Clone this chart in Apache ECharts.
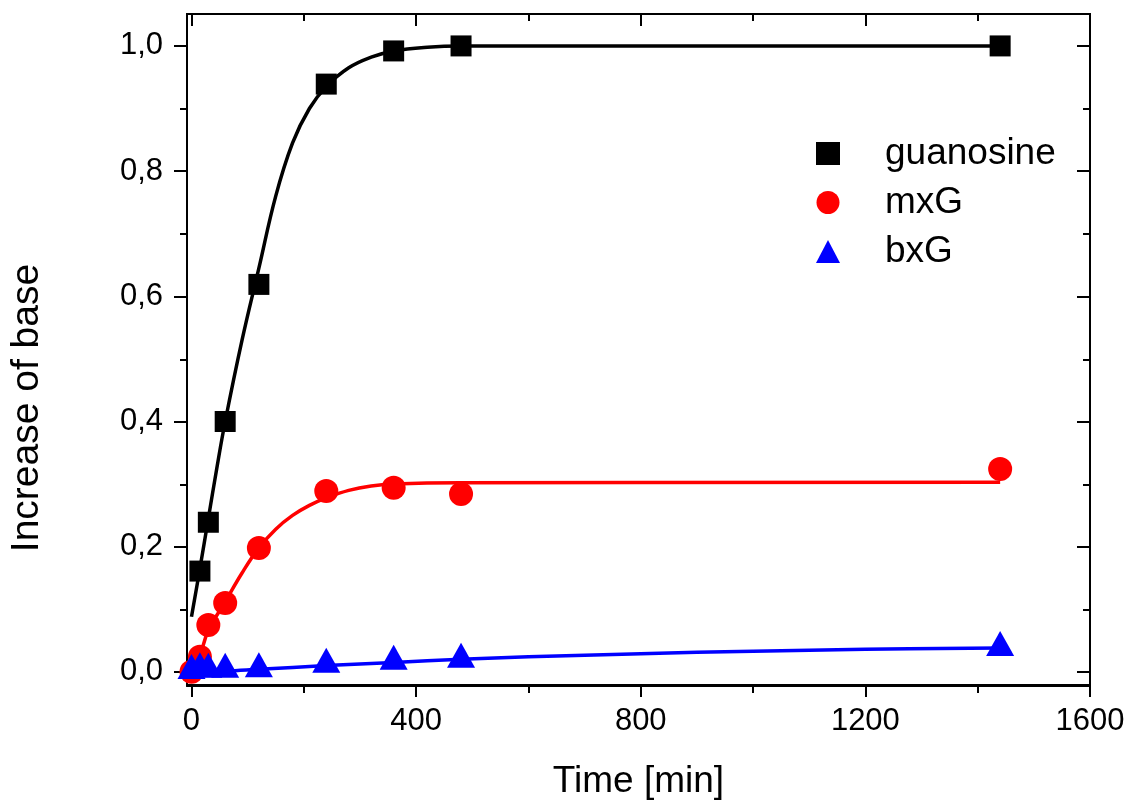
<!DOCTYPE html>
<html>
<head>
<meta charset="utf-8">
<script src="https://cdn.jsdelivr.net/npm/echarts@6/dist/echarts.min.js"></script>
<style>
html,body{margin:0;padding:0;background:#fff;}
#c{width:1130px;height:805px;}
</style>
</head>
<body>
<div id="c"></div>
<script>
// ---- data ----
const times = [0, 15, 30, 60, 120, 240, 360, 480, 1440];
const guanosineTimes = [15, 30, 60, 120, 240, 360, 480, 1440];
const guanosine = [0.161, 0.239, 0.400, 0.619, 0.939, 0.992, 1.0, 1.0];
const mxG = [0.0, 0.024, 0.075, 0.110, 0.198, 0.289, 0.294, 0.284, 0.324];
const bxG = [0.002, 0.005, 0.004, 0.004, 0.005, 0.012, 0.017, 0.020, 0.039];

// fitted curves
const guanosineFitT = [0, 15, 30, 45, 60, 90, 120, 150, 180, 210, 240, 280, 320, 360, 420, 480, 700, 1440];
const guanosineFitY = [0.088, 0.165, 0.245, 0.325, 0.400, 0.530, 0.645, 0.760, 0.845, 0.900, 0.935, 0.965, 0.982, 0.992, 0.998, 1.0, 1.0, 1.0];
const mxGFitT = [0, 15, 30, 60, 90, 120, 150, 180, 210, 240, 280, 320, 360, 480, 1440];
const mxGFitY = [-0.010, 0.025, 0.066, 0.112, 0.158, 0.198, 0.228, 0.250, 0.266, 0.278, 0.290, 0.297, 0.300, 0.302, 0.303];
const bxGFitT = [0, 60, 120, 240, 360, 480, 600, 800, 1000, 1200, 1440];
const bxGFitY = [-0.003, 0.001, 0.004, 0.010, 0.015, 0.020, 0.024, 0.029, 0.033, 0.036, 0.038];

const xMajor = [0, 400, 800, 1200, 1600];
const xMinor = [200, 600, 1000, 1400];
const yMajor = [0, 0.2, 0.4, 0.6, 0.8, 1.0];
const yMinor = [0.1, 0.3, 0.5, 0.7, 0.9];

const names = ['guanosine', 'mxG', 'bxG'];
const symbols = ['rect', 'circle', 'triangle'];
const colors = ['#000000', '#ff0000', '#0000ff'];

const zip = (a, b) => a.map((v, i) => [v, b[i]]);
const FONT = '"Liberation Sans", Arial, Helvetica, sans-serif';
const X_MIN = -8, X_MAX = 1600, Y_MIN = -0.021, Y_MAX = 1.051;

function xAx(grid, pos, vals, len, inside, labels) {
  return {
    type: 'value', gridIndex: grid, position: pos, min: X_MIN, max: X_MAX,
    axisLine: {show: true, onZero: false, lineStyle: {color: '#000', width: 2}},
    axisTick: {show: true, inside: inside, length: len, customValues: vals, lineStyle: {color: '#000', width: 2}},
    axisLabel: labels ? {show: true, customValues: vals, margin: 21, color: '#000', fontSize: 31, fontFamily: FONT,
      formatter: v => String(Math.round(v))} : {show: false},
    splitLine: {show: false}, minorTick: {show: false},
    name: labels ? 'Time [min]' : '', nameLocation: 'middle', nameGap: 78,
    nameTextStyle: {color: '#000', fontSize: 37, fontFamily: FONT}
  };
}
function yAx(grid, pos, vals, len, inside, labels) {
  return {
    type: 'value', gridIndex: grid, position: pos, min: Y_MIN, max: Y_MAX,
    axisLine: {show: true, onZero: false, lineStyle: {color: '#000', width: 2}},
    axisTick: {show: true, inside: inside, length: len, customValues: vals, lineStyle: {color: '#000', width: 2}},
    axisLabel: labels ? {show: true, customValues: vals, margin: 24, color: '#000', fontSize: 31, fontFamily: FONT,
      formatter: v => v.toFixed(1).replace('.', ',')} : {show: false},
    splitLine: {show: false}, minorTick: {show: false}
  };
}

const gridBox = {left: 187, right: 40, top: 14, bottom: 119, containLabel: false};

const option = {
  animation: false,
  backgroundColor: '#fff',
  grid: [Object.assign({}, gridBox), Object.assign({}, gridBox)],
  xAxis: [
    xAx(0, 'bottom', xMajor, 12, false, true),
    xAx(0, 'top', xMajor, 12, true, false),
    xAx(1, 'bottom', xMinor, 7, false, false),
    xAx(1, 'top', xMinor, 7, true, false)
  ],
  yAxis: [
    yAx(0, 'left', yMajor, 13, false, true),
    yAx(0, 'right', yMajor, 13, true, false),
    yAx(1, 'left', yMinor, 7, false, false),
    yAx(1, 'right', yMinor, 7, true, false)
  ],
  legend: {
    data: names.map((n, i) => ({name: n, icon: symbols[i]})),
    orient: 'vertical', left: 811, top: 130,
    itemWidth: 24, itemHeight: 23, itemGap: 12,
    textStyle: {color: '#000', fontSize: 37, fontFamily: FONT, padding: [0, 0, 0, 40]},
    selectedMode: false
  },
  graphic: [{
    type: 'text', z: 10,
    x: 27, y: 408, rotation: Math.PI / 2,
    style: {text: 'Increase of base', fill: '#000', fontSize: 39, fontFamily: FONT, align: 'center', verticalAlign: 'middle'}
  }],
  series: [
    {name: 'guanosine fit', type: 'line', xAxisIndex: 0, yAxisIndex: 0, data: zip(guanosineFitT, guanosineFitY),
      smooth: 0.4, showSymbol: false, lineStyle: {color: colors[0], width: 3.5}, z: 2, silent: true},
    {name: 'guanosine', type: 'scatter', xAxisIndex: 0, yAxisIndex: 0, data: zip(guanosineTimes, guanosine),
      symbol: 'rect', symbolSize: 21, itemStyle: {color: colors[0], opacity: 1}, z: 3},
    {name: 'mxG fit', type: 'line', xAxisIndex: 0, yAxisIndex: 0, data: zip(mxGFitT, mxGFitY),
      smooth: 0.4, showSymbol: false, lineStyle: {color: colors[1], width: 3.5}, z: 4, silent: true},
    {name: 'mxG', type: 'scatter', xAxisIndex: 0, yAxisIndex: 0, data: zip(times, mxG),
      symbol: 'circle', symbolSize: 24, itemStyle: {color: colors[1], opacity: 1}, z: 5},
    {name: 'bxG fit', type: 'line', xAxisIndex: 0, yAxisIndex: 0, data: zip(bxGFitT, bxGFitY),
      smooth: 0.4, showSymbol: false, lineStyle: {color: colors[2], width: 3.5}, z: 6, silent: true},
    {name: 'bxG', type: 'scatter', xAxisIndex: 0, yAxisIndex: 0, data: zip(times, bxG),
      symbol: 'triangle', symbolSize: [28, 25], symbolOffset: [0, -4], itemStyle: {color: colors[2], opacity: 1}, z: 7}
  ]
};

const chart = echarts.init(document.getElementById('c'), null, {renderer: 'canvas'});
chart.setOption(option);
</script>
</body>
</html>
